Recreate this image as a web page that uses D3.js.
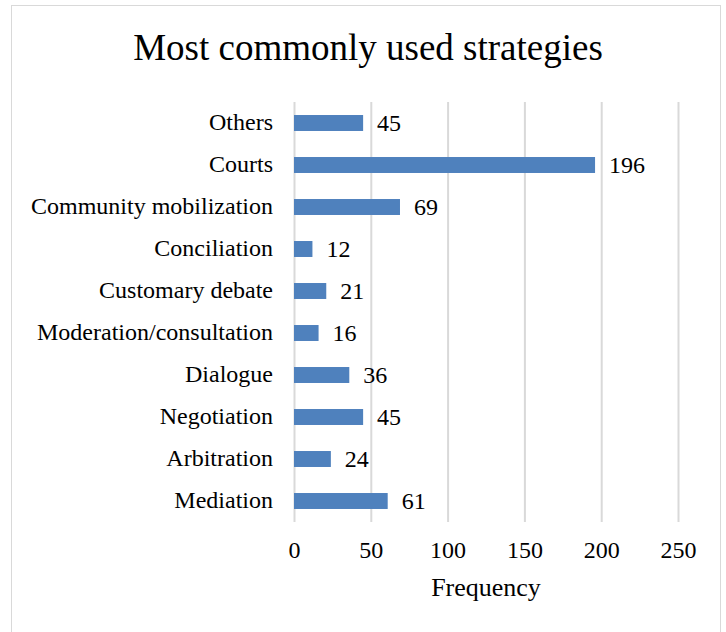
<!DOCTYPE html>
<html><head><meta charset="utf-8">
<script src="https://cdn.jsdelivr.net/npm/d3@7"></script>
<style>html,body{margin:0;padding:0;background:#fff;}</style>
</head><body>
<script>
const categories = ["Mediation","Arbitration","Negotiation","Dialogue","Moderation/consultation","Customary debate","Conciliation","Community mobilization","Courts","Others"];
const values = [61,24,45,36,16,21,12,69,196,45];
const xTicks = [0,50,100,150,200,250];
const title = "Most commonly used strategies";
const xTitle = "Frequency";

const W = 726, H = 632;
const font = "'Liberation Serif','Times New Roman',serif";
const svg = d3.select("body").append("svg").attr("width", W).attr("height", H);
svg.append("rect").attr("x", 11.5).attr("y", 5.5).attr("width", 709).attr("height", 640)
  .attr("fill", "#fff").attr("stroke", "#d9d9d9");

const x = d3.scaleLinear().domain([0, 250]).range([294, 678]);
const y = d3.scaleBand().domain(categories.slice().reverse()).range([102, 522]).paddingInner(0.62).paddingOuter(0.31);

svg.append("text").attr("x", 368).attr("y", 60).attr("text-anchor", "middle")
  .attr("font-family", font).attr("font-size", 37).attr("fill", "#000").text(title);

const gx = svg.append("g").attr("transform", "translate(0,522)")
  .call(d3.axisBottom(x).tickValues(xTicks).tickSize(-420).tickPadding(19));
gx.select(".domain").remove();
gx.selectAll(".tick line").attr("stroke", "#d9d9d9").attr("stroke-width", 2);
gx.selectAll(".tick text").attr("font-family", font).attr("font-size", 24).attr("fill", "#000");

svg.append("g").selectAll("rect").data(categories).join("rect")
  .attr("x", x(0)).attr("y", d => y(d)).attr("height", y.bandwidth())
  .attr("width", (d, i) => x(values[i]) - x(0)).attr("fill", "#4f81bd");

svg.append("g").selectAll("text").data(categories).join("text")
  .attr("x", (d, i) => x(values[i]) + 14).attr("y", d => y(d) + y.bandwidth() / 2).attr("dy", "0.35em")
  .attr("font-family", font).attr("font-size", 24).attr("fill", "#000").text((d, i) => values[i]);

svg.append("g").selectAll("text").data(categories).join("text")
  .attr("x", 273).attr("y", d => y(d) + y.bandwidth() / 2).attr("dy", "0.3em").attr("text-anchor", "end")
  .attr("font-family", font).attr("font-size", 24).attr("fill", "#000").text(d => d);

svg.append("text").attr("x", 486).attr("y", 596).attr("text-anchor", "middle")
  .attr("font-family", font).attr("font-size", 26).attr("fill", "#000").text(xTitle);
</script>
</body></html>
